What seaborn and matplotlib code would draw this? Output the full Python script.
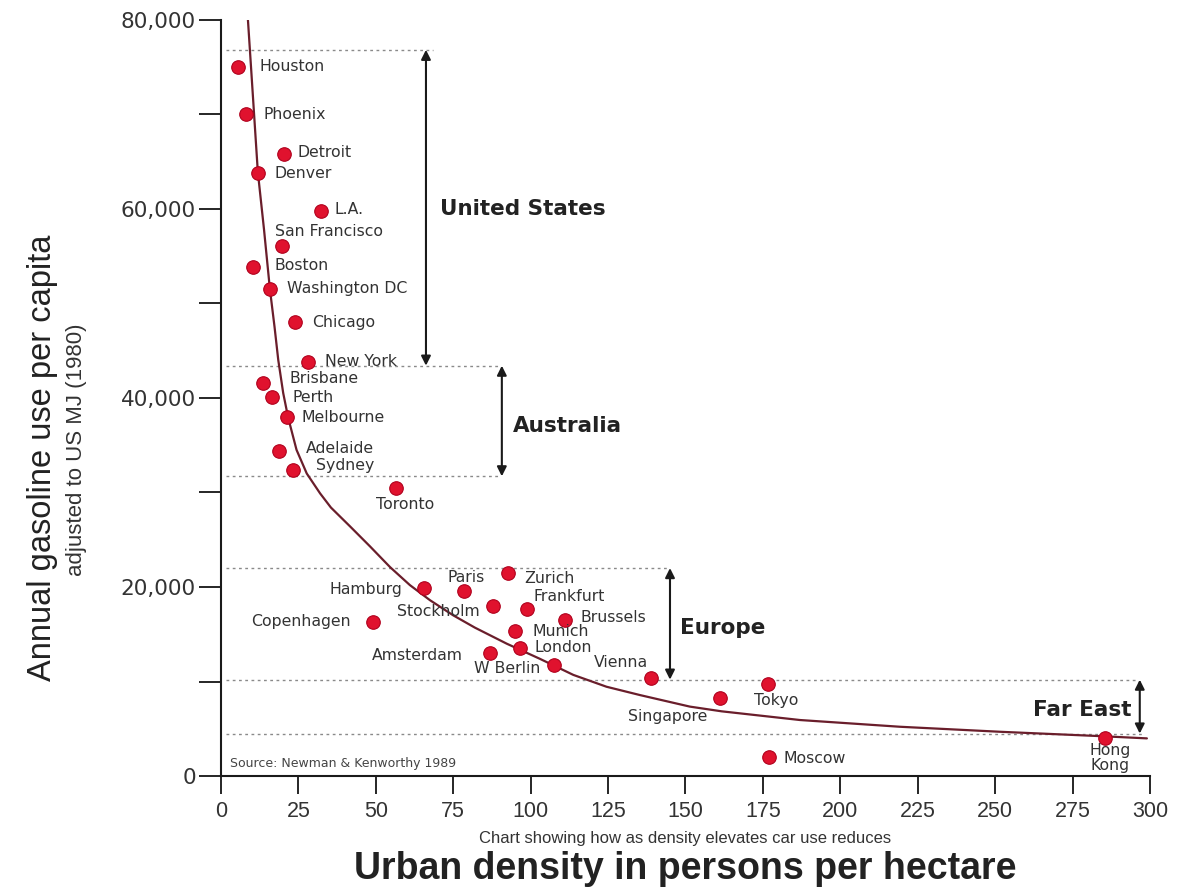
import matplotlib
matplotlib.use("Agg")
import pandas as pd
import matplotlib.pyplot as plt
import seaborn as sns
from matplotlib.ticker import MultipleLocator, FuncFormatter

# ---- data ----
cities = ["Houston", "Phoenix", "Detroit", "Denver", "L.A.", "San Francisco",
          "Boston", "Washington DC", "Chicago", "New York",
          "Brisbane", "Perth", "Melbourne", "Adelaide", "Sydney", "Toronto",
          "Hamburg", "Paris", "Zurich", "Frankfurt", "Stockholm", "Brussels",
          "Copenhagen", "Munich", "London", "Amsterdam", "W Berlin", "Vienna",
          "Singapore", "Tokyo", "Moscow", "Hong\nKong"]
density = [5.5, 8.1, 20.3, 11.9, 32.3, 19.7, 10.3, 15.8, 23.9, 28.1,
           13.6, 16.5, 21.3, 18.7, 23.2, 56.5,
           65.5, 78.4, 92.6, 98.8, 87.8, 111.1, 49.1, 94.9, 96.5, 86.9, 107.5, 138.8,
           161.1, 176.6, 176.9, 285.4]
gasoline = [75000, 70000, 65800, 63800, 59800, 56100, 53800, 51500, 48000, 43800,
            41600, 40100, 38000, 34400, 32400, 30500,
            19900, 19600, 21500, 17700, 18000, 16500, 16300, 15300, 13500, 13000, 11700, 10400,
            8300, 9700, 2000, 4000]

# trend curve
curve_density = [8.7, 9.7, 11.9, 13.9, 15.8, 17.3, 18.5, 20.1, 21.7, 24.4, 27.7, 32.0,
                 35.5, 41.7, 48.1, 54.6, 61.0, 67.5, 75.0, 82.0, 92.3, 103.0, 113.8,
                 124.5, 135.3, 151.4, 161.7, 187.0, 219.2, 251.5, 283.8, 299.0]
curve_gasoline = [80000, 75000, 63900, 57800, 51500, 47500, 44000, 40500, 37900, 34500,
                  32000, 29900, 28400, 26400, 24300, 22100, 20200, 18600, 17000, 15700,
                  14000, 12400, 10700, 9450, 8570, 7350, 6850, 5930, 5220, 4690, 4230, 3990]

# region bands (dotted boundaries) and their arrows
regions = ["United States", "Australia", "Europe", "Far East"]
region_top = [76800, 43400, 22000, 10200]
region_bottom = [43400, 31700, 10200, 4500]
region_arrow_x = [66.2, 90.7, 145.0, 296.7]
band_levels = [76800, 43400, 31700, 22000, 10200, 4500]
band_ends = [68.4, 90.0, 90.0, 144.0, 296.0, 298.0]

x_ticks = list(range(0, 301, 25))
y_ticks = [0, 20000, 40000, 60000, 80000]

# ---- label placement (pixel offsets, ha) ----
label_pos = {
    "Houston": (22, 0, "left"), "Phoenix": (17, 0, "left"), "Detroit": (14, -1, "left"),
    "Denver": (17, 1, "left"), "L.A.": (14, -1, "left"), "San Francisco": (-7, -14, "left"),
    "Boston": (22, -2, "left"), "Washington DC": (17, -1, "left"), "Chicago": (17, 0, "left"),
    "New York": (17, 0, "left"), "Brisbane": (26, -4, "left"), "Perth": (20, 1, "left"),
    "Melbourne": (15, 1, "left"), "Adelaide": (27, -2, "left"), "Sydney": (23, -4, "left"),
    "Toronto": (9, 17, "center"), "Hamburg": (-22, 2, "right"), "Paris": (2, -13, "center"),
    "Zurich": (17, 6, "left"), "Frankfurt": (7, -12, "left"), "Stockholm": (-13, 6, "right"),
    "Brussels": (15, -3, "left"), "Copenhagen": (-22, 0, "right"), "Munich": (18, 0, "left"),
    "London": (15, -1, "left"), "Amsterdam": (-27, 2, "right"), "W Berlin": (-13, 3, "right"),
    "Vienna": (-3, -15, "right"), "Singapore": (-52, 19, "center"), "Tokyo": (-14, 16, "left"),
    "Moscow": (15, 1, "left"), "Hong\nKong": (5, 20, "center"),
}
region_label_pos = [(70.7, 60000, "left"), (94.3, 37000, "left"),
                    (148.2, 15700, "left"), (294.0, 7000, "right")]

df = pd.DataFrame({"city": cities, "density": density, "gasoline": gasoline})

sns.set_style("ticks")
plt.rcParams["font.family"] = ["DejaVu Sans"]

fig = plt.figure(figsize=(11.88, 8.88), dpi=100)
ax = fig.add_axes([0.186, 0.126, 0.782, 0.852])

# dotted band lines
for lvl, end in zip(band_levels, band_ends):
    ax.plot([1.5, end], [lvl, lvl], color="#8a8a8a", lw=1.0, ls=(0, (2, 2.5)), zorder=1)

# trend curve
sns.lineplot(x=curve_density, y=curve_gasoline, sort=False, color="#6a1e2b",
             lw=1.6, ax=ax, zorder=2)

# cities
sns.scatterplot(data=df, x="density", y="gasoline", s=95, color="#e0122e",
                edgecolor="#b0001c", linewidth=0.8, ax=ax, zorder=3)

for c, x, y in zip(cities, density, gasoline):
    dx, dy, ha = label_pos[c]
    ax.annotate(c, (x, y), xytext=(dx * 0.72, -dy * 0.72), textcoords="offset points",
                ha=ha, va="center", fontsize=11.3, color="#333333",
                linespacing=1.0, zorder=4)

# region arrows and names
for name, ax_x, top, bot, (tx, ty, tha) in zip(regions, region_arrow_x, region_top,
                                                region_bottom, region_label_pos):
    ax.annotate("", xy=(ax_x, top), xytext=(ax_x, bot),
                arrowprops=dict(arrowstyle="<|-|>", color="#1a1a1a", lw=1.5,
                                mutation_scale=14, shrinkA=0, shrinkB=0))
    ax.text(tx, ty, name, ha=tha, va="center", fontsize=15.5, fontweight="bold",
            color="#222222")

ax.text(3, 1300, "Source: Newman & Kenworthy 1989", fontsize=9, color="#444444",
        ha="left", va="center")

ax.set_xlim(0, 300)
ax.set_ylim(0, 80000)
ax.set_xticks(x_ticks)
ax.set_yticks(y_ticks)
ax.yaxis.set_minor_locator(MultipleLocator(10000))
ax.yaxis.set_major_formatter(FuncFormatter(lambda v, p: f"{int(v):,}"))
ax.tick_params(axis="y", which="both", length=16, width=1.4, direction="out",
               labelsize=15.5, labelcolor="#333333", pad=2)
ax.tick_params(axis="x", length=13, width=1.4, direction="out", pad=5)
for lab in ax.get_xticklabels():
    lab.set_fontfamily("Liberation Sans")
    lab.set_fontsize(15.5)
    lab.set_color("#333333")
for s in ["top", "right"]:
    ax.spines[s].set_visible(False)
for s in ["left", "bottom"]:
    ax.spines[s].set_linewidth(1.5)
    ax.spines[s].set_color("#1a1a1a")
ax.set_xlabel("")
ax.set_ylabel("")

fig.text(0.036, 0.485, "Annual gasoline use per capita", rotation=90, ha="center",
         va="center", fontsize=23.5, family="Liberation Sans", color="#222222")
fig.text(0.064, 0.493, "adjusted to US MJ (1980)", rotation=90, ha="center",
         va="center", fontsize=16, family="Liberation Sans", color="#333333")
fig.text(0.577, 0.056, "Chart showing how as density elevates car use reduces",
         ha="center", va="center", fontsize=12, family="Liberation Sans", color="#333333")
fig.text(0.577, 0.021, "Urban density in persons per hectare", ha="center",
         va="center", fontsize=27, fontweight="bold", family="Liberation Sans",
         color="#222222")

fig.savefig("out.png", dpi=100)
